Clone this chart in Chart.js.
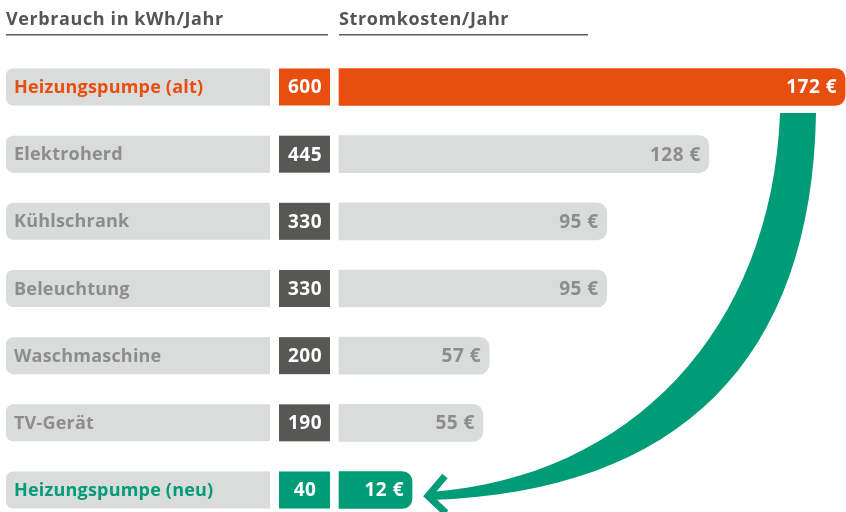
<!DOCTYPE html>
<html>
<head>
<meta charset="utf-8">
<script src="https://cdn.jsdelivr.net/npm/chart.js@4.4.1/dist/chart.umd.min.js"></script>
<style>
  html, body { margin: 0; padding: 0; background: #fff; }
  #wrap { width: 846px; height: 512px; }
</style>
</head>
<body>
<div id="wrap"><canvas id="stromChart" width="846" height="512"></canvas></div>
<script>
// Daten
const geraete = ["Heizungspumpe (alt)", "Elektroherd", "Kühlschrank", "Beleuchtung", "Waschmaschine", "TV-Gerät", "Heizungspumpe (neu)"];
const verbrauchKwh = [600, 445, 330, 330, 200, 190, 40];
const stromkostenEuro = [172, 128, 95, 95, 57, 55, 12];
const kopfzeilen = ["Verbrauch in kWh/Jahr", "Stromkosten/Jahr"];

// Farben
const ORANGE = "#e84e0f";
const GRUEN = "#009b77";
const HELLGRAU = "#dadbdb";
const DUNKELGRAU = "#575756";
const TEXTGRAU = "#8d8d8d";
const FONT = "'Open Sans', sans-serif";

function akzent(i) {
  if (i === 0) return ORANGE;
  if (i === geraete.length - 1) return GRUEN;
  return null;
}

// Achse beginnt nicht bei 0, damit die Balken wie in der Grafik enden
const X_START = 8.5;

const infografik = {
  id: "infografik",
  beforeDatasetsDraw(chart) {
    const ctx = chart.ctx;
    const yScale = chart.scales.y;
    ctx.save();

    // Kopfzeilen + Linien
    ctx.font = "bold 18px " + FONT;
    ctx.letterSpacing = "0.6px";
    ctx.fillStyle = "#555555";
    ctx.textAlign = "left";
    ctx.textBaseline = "alphabetic";
    ctx.fillText(kopfzeilen[0], 6, 25);
    ctx.fillText(kopfzeilen[1], 339, 25);
    ctx.fillStyle = "#5a5a5a";
    ctx.fillRect(6, 34, 322, 1.5);
    ctx.fillRect(339, 34, 249, 1.5);

    // Gerätenamen und kWh-Kästchen
    ctx.textBaseline = "middle";
    geraete.forEach((name, i) => {
      const y = yScale.getPixelForValue(i);
      const farbe = akzent(i);

      ctx.fillStyle = HELLGRAU;
      ctx.beginPath();
      ctx.roundRect(6, y - 18.5, 264, 37, [7, 0, 0, 7]);
      ctx.fill();
      ctx.font = "bold 18px " + FONT;
      ctx.letterSpacing = "0.2px";
      ctx.fillStyle = farbe || TEXTGRAU;
      ctx.textAlign = "left";
      ctx.fillText(name, 14, y + 1);

      ctx.fillStyle = farbe || DUNKELGRAU;
      ctx.fillRect(279, y - 18.5, 51, 37);
      ctx.font = "bold 19px " + FONT;
      ctx.letterSpacing = "0.5px";
      ctx.fillStyle = "#ffffff";
      ctx.textAlign = "center";
      ctx.fillText(String(verbrauchKwh[i]), 305, y + 1);
    });
    ctx.restore();
  },
  afterDatasetsDraw(chart) {
    const ctx = chart.ctx;
    const meta = chart.getDatasetMeta(0);
    ctx.save();

    // Euro-Beträge am Balkenende
    ctx.font = "bold 19px " + FONT;
    ctx.letterSpacing = "0.5px";
    ctx.textAlign = "right";
    ctx.textBaseline = "middle";
    meta.data.forEach((bar, i) => {
      ctx.fillStyle = akzent(i) ? "#ffffff" : TEXTGRAU;
      ctx.fillText(stromkostenEuro[i] + " €", bar.x - 8, bar.y + 1);
    });

    // grüner Pfeil von alt nach neu
    ctx.letterSpacing = "0px";
    ctx.fillStyle = GRUEN;
    ctx.beginPath();
    ctx.moveTo(816, 113);
    ctx.bezierCurveTo(812, 360, 680, 492, 430, 500);
    ctx.lineTo(430, 492);
    ctx.bezierCurveTo(630, 478, 772, 330, 780, 113);
    ctx.closePath();
    ctx.fill();

    ctx.strokeStyle = GRUEN;
    ctx.lineWidth = 7;
    ctx.lineJoin = "miter";
    ctx.beginPath();
    ctx.moveTo(445, 476);
    ctx.lineTo(428, 496);
    ctx.lineTo(446, 513);
    ctx.stroke();
    ctx.restore();
  }
};

const ctx = document.getElementById("stromChart").getContext("2d");
new Chart(ctx, {
  type: "bar",
  data: {
    labels: geraete,
    datasets: [{
      data: stromkostenEuro,
      backgroundColor: geraete.map((g, i) => akzent(i) || HELLGRAU),
      borderRadius: 10,
      barThickness: 37,
      base: X_START,
      minBarLength: 73,
      clip: false
    }]
  },
  options: {
    indexAxis: "y",
    responsive: false,
    animation: false,
    layout: { padding: { left: 339, right: 0, top: 87, bottom: 22 } },
    scales: {
      x: { display: false, min: X_START, max: 172.3 },
      y: { display: false, offset: false }
    },
    plugins: {
      legend: { display: false },
      tooltip: { enabled: false }
    }
  },
  plugins: [infografik]
});
</script>
</body>
</html>
